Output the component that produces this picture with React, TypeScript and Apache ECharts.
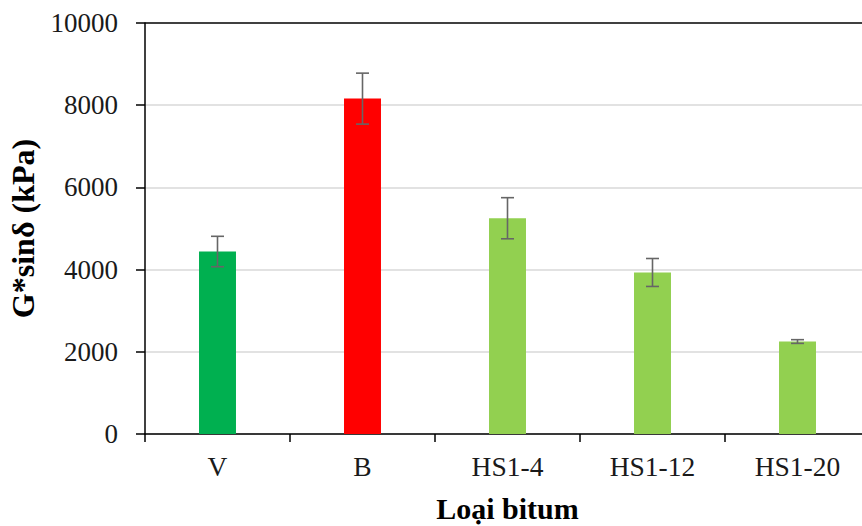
import React, { useEffect, useRef } from "react";
import * as echarts from "echarts";

const categories = ["V", "B", "HS1-4", "HS1-12", "HS1-20"];
const values = [4440, 8160, 5250, 3930, 2250];
const errors = [370, 620, 500, 340, 45];
const barColors = ["#00b050", "#ff0000", "#92d050", "#92d050", "#92d050"];
const yTicks = [0, 2000, 4000, 6000, 8000, 10000];

export default function App() {
  const ref = useRef<HTMLDivElement>(null);
  useEffect(() => {
    if (!ref.current) return;
    const chart = echarts.init(ref.current, null, { renderer: "svg" });
    const font = "'Liberation Serif', 'Times New Roman', serif";
    chart.setOption({
      animation: false,
      backgroundColor: "#ffffff",
      grid: {
        left: 145,
        top: 23,
        width: 725,
        height: 411,
        containLabel: false,
        outerBoundsMode: "none",
      },
      xAxis: {
        type: "category",
        data: categories,
        name: "Loại bitum",
        nameLocation: "middle",
        nameGap: 59,
        nameTextStyle: { fontFamily: font, fontSize: 30, fontWeight: "bold", color: "#000" },
        axisLine: { lineStyle: { color: "#000", width: 1.5 } },
        axisTick: { show: true, length: 8, lineStyle: { color: "#000", width: 1.5 } },
        axisLabel: { fontFamily: font, fontSize: 27.5, color: "#1a1a1a", margin: 18 },
      },
      yAxis: {
        type: "value",
        min: 0,
        max: 10000,
        interval: 2000,
        name: "G*sinδ (kPa)",
        nameLocation: "middle",
        nameGap: 106,
        nameRotate: 90,
        nameTextStyle: { fontFamily: font, fontSize: 32, fontWeight: "bold", color: "#000" },
        axisLine: { show: true, lineStyle: { color: "#000", width: 1.5 } },
        axisTick: { show: true, length: 9, lineStyle: { color: "#000", width: 1.5 } },
        axisLabel: {
          fontFamily: font,
          fontSize: 27,
          color: "#1a1a1a",
          margin: 27,
          formatter: (v: number) => (yTicks.includes(v) ? String(v) : ""),
        },
        splitLine: {
          show: true,
          lineStyle: { color: ["#d9d9d9", "#d9d9d9", "#d9d9d9", "#d9d9d9", "#d9d9d9", "#000"], width: 1.5 },
        },
      },
      series: [
        {
          type: "bar",
          barWidth: "25.5%",
          data: values.map((v, i) => ({ value: v, itemStyle: { color: barColors[i] } })),
        },
        {
          type: "custom",
          data: values.map((v, i) => [i, v - errors[i], v + errors[i]]),
          renderItem: (params: any, api: any) => {
            const idx = api.value(0);
            const lo = api.coord([idx, api.value(1)]);
            const hi = api.coord([idx, api.value(2)]);
            const hw = 6.5;
            const style = { stroke: "#666666", lineWidth: 1.6 };
            return {
              type: "group",
              children: [
                { type: "line", shape: { x1: hi[0], y1: hi[1], x2: lo[0], y2: lo[1] }, style },
                { type: "line", shape: { x1: hi[0] - hw, y1: hi[1], x2: hi[0] + hw, y2: hi[1] }, style },
                { type: "line", shape: { x1: lo[0] - hw, y1: lo[1], x2: lo[0] + hw, y2: lo[1] }, style },
              ],
            };
          },
          z: 10,
        },
      ],
    });
    return () => chart.dispose();
  }, []);
  return (
    <div
      ref={ref}
      style={{ position: "absolute", left: 0, top: 0, width: 862, height: 526 }}
    />
  );
}
